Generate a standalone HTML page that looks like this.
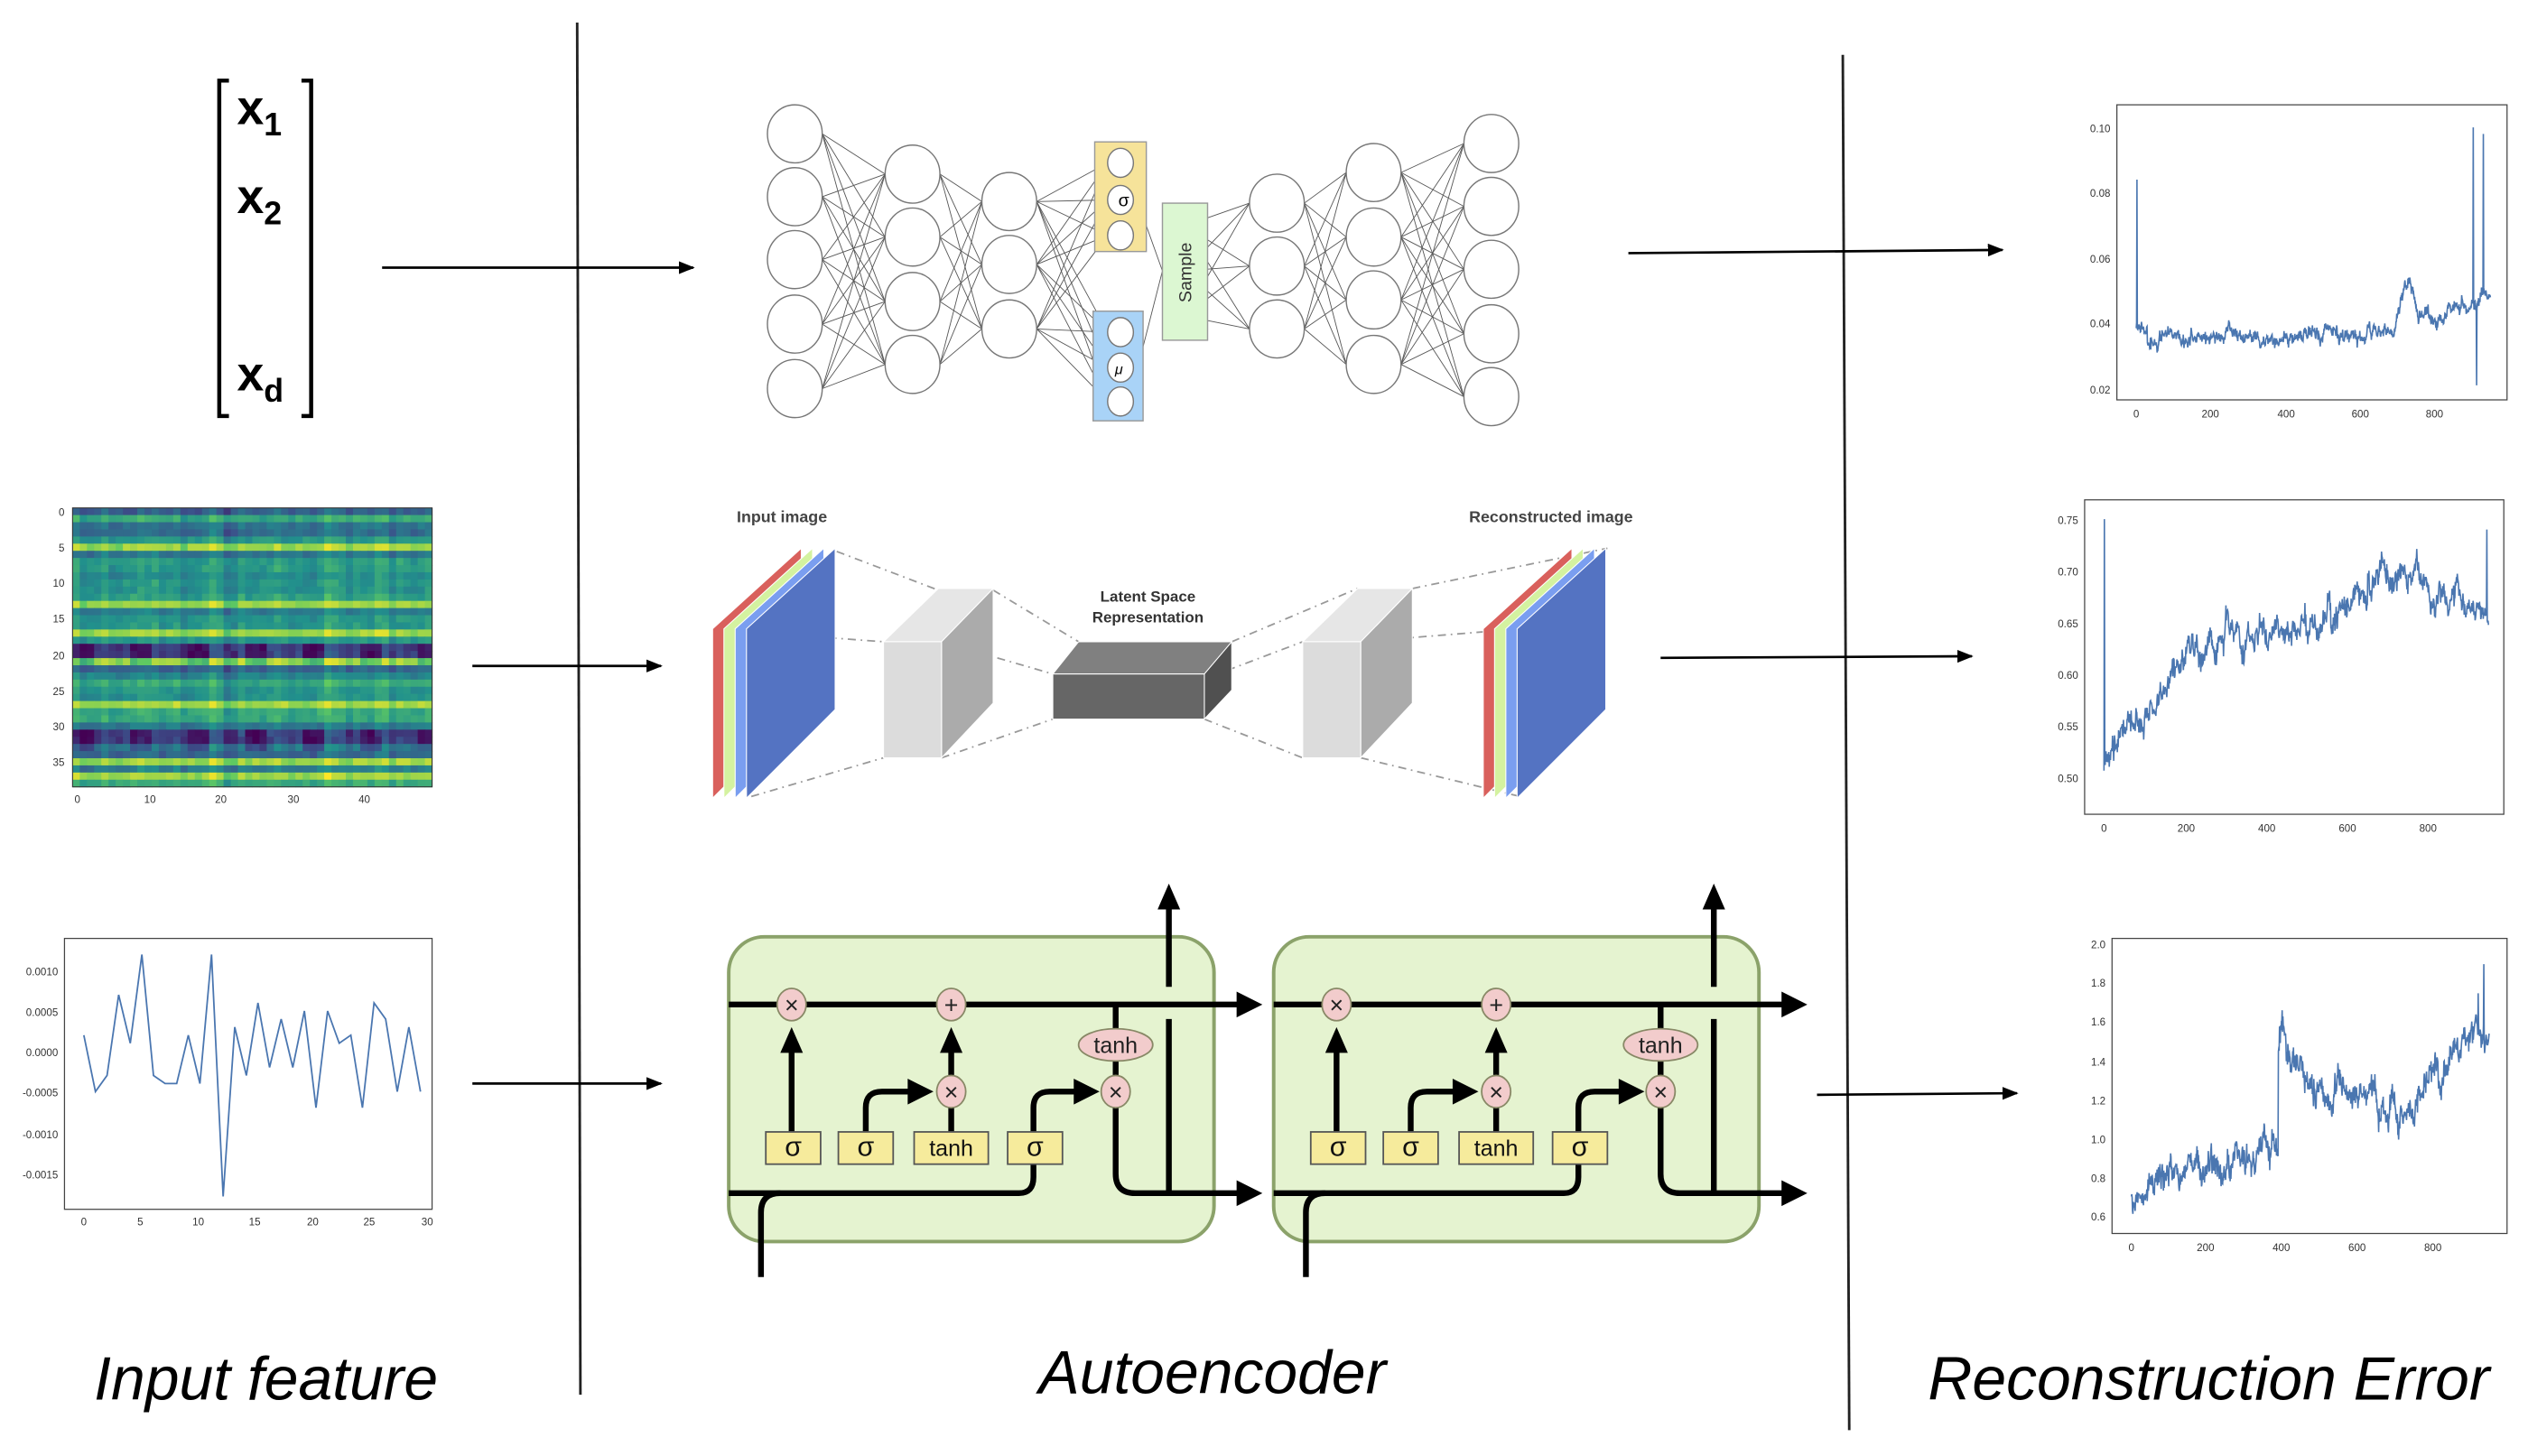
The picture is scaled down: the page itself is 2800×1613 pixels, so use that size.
<!DOCTYPE html>
<html><head><meta charset="utf-8"><style>
html,body{margin:0;padding:0;background:#fff;}
svg{display:block;}
text{font-family:"Liberation Sans",sans-serif;}
</style></head><body>
<svg id="s" width="2800" height="1613" viewBox="0 0 1568 903" preserveAspectRatio="none" xmlns="http://www.w3.org/2000/svg">
<defs>
<marker id="ah" markerWidth="10" markerHeight="8" refX="9" refY="4" orient="auto" markerUnits="userSpaceOnUse"><path d="M0,0 L10,4 L0,8 z" fill="#000"/></marker>
</defs>
<rect width="1568" height="903" fill="#fff"/>
<line x1="358" y1="14" x2="360" y2="865" stroke="#222" stroke-width="1.6"/>
<line x1="1143" y1="34" x2="1147" y2="887" stroke="#222" stroke-width="1.6"/>
<text x="165" y="868" font-size="38" font-style="italic" text-anchor="middle" fill="#000">Input feature</text>
<text x="752" y="864" font-size="38" font-style="italic" text-anchor="middle" fill="#000">Autoencoder</text>
<text x="1370" y="868" font-size="38" font-style="italic" text-anchor="middle" fill="#000">Reconstruction Error</text>
<path d="M142,50 L136,50 L136,258 L142,258" fill="none" stroke="#000" stroke-width="2.5"/>
<path d="M187,50 L193,50 L193,258 L187,258" fill="none" stroke="#000" stroke-width="2.5"/>
<text x="147" y="77" font-size="30" font-weight="600" fill="#000">x<tspan font-size="20" dy="7">1</tspan></text>
<text x="147" y="132" font-size="30" font-weight="600" fill="#000">x<tspan font-size="20" dy="7">2</tspan></text>
<text x="147" y="242" font-size="30" font-weight="600" fill="#000">x<tspan font-size="20" dy="7">d</tspan></text>
<g stroke="#000" stroke-width="1.5" marker-end="url(#ah)">
<line x1="237" y1="166" x2="430" y2="166"/>
<line x1="293" y1="413" x2="410" y2="413"/>
<line x1="293" y1="672" x2="410" y2="672"/>
<line x1="1010" y1="157" x2="1242" y2="155"/>
<line x1="1030" y1="408" x2="1223" y2="407"/>
<line x1="1127" y1="679" x2="1251" y2="678"/>
</g>
<g id="heat"></g>
<rect x="45" y="315" width="223" height="173" fill="none" stroke="#333" stroke-width="0.6"/>
<g font-size="6.5" fill="#333">
<text x="40" y="320" text-anchor="end">0</text><text x="40" y="342" text-anchor="end">5</text><text x="40" y="364" text-anchor="end">10</text><text x="40" y="386" text-anchor="end">15</text><text x="40" y="409" text-anchor="end">20</text><text x="40" y="431" text-anchor="end">25</text><text x="40" y="453" text-anchor="end">30</text><text x="40" y="475" text-anchor="end">35</text>
<text x="48" y="498" text-anchor="middle">0</text><text x="93" y="498" text-anchor="middle">10</text><text x="137" y="498" text-anchor="middle">20</text><text x="182" y="498" text-anchor="middle">30</text><text x="226" y="498" text-anchor="middle">40</text>
</g>
<rect x="40" y="582" width="228" height="168" fill="none" stroke="#444" stroke-width="0.7"/>
<g font-size="6.5" fill="#333" text-anchor="end">
<text x="36" y="605">0.0010</text><text x="36" y="630">0.0005</text><text x="36" y="655">0.0000</text><text x="36" y="680">-0.0005</text><text x="36" y="706">-0.0010</text><text x="36" y="731">-0.0015</text>
</g>
<g font-size="6.5" fill="#333" text-anchor="middle">
<text x="52" y="760">0</text><text x="87" y="760">5</text><text x="123" y="760">10</text><text x="158" y="760">15</text><text x="194" y="760">20</text><text x="229" y="760">25</text><text x="265" y="760">30</text>
</g>
<polyline id="small" fill="none" stroke="#4a76b0" stroke-width="1"/>
<rect x="1313" y="65" width="242" height="183" fill="none" stroke="#444" stroke-width="0.7"/>
<g font-size="6.5" fill="#333" text-anchor="end">
<text x="1309" y="82">0.10</text><text x="1309" y="122">0.08</text><text x="1309" y="163">0.06</text><text x="1309" y="203">0.04</text><text x="1309" y="244">0.02</text>
</g>
<g font-size="6.5" fill="#333" text-anchor="middle">
<text x="1325" y="259">0</text><text x="1371" y="259">200</text><text x="1418" y="259">400</text><text x="1464" y="259">600</text><text x="1510" y="259">800</text>
</g>
<polyline id="p1" fill="none" stroke="#4a76b0" stroke-width="0.9"/>
<rect x="1293" y="310" width="260" height="195" fill="none" stroke="#444" stroke-width="0.7"/>
<g font-size="6.5" fill="#333" text-anchor="end">
<text x="1289" y="325">0.75</text><text x="1289" y="357">0.70</text><text x="1289" y="389">0.65</text><text x="1289" y="421">0.60</text><text x="1289" y="453">0.55</text><text x="1289" y="485">0.50</text>
</g>
<g font-size="6.5" fill="#333" text-anchor="middle">
<text x="1305" y="516">0</text><text x="1356" y="516">200</text><text x="1406" y="516">400</text><text x="1456" y="516">600</text><text x="1506" y="516">800</text>
</g>
<polyline id="p2" fill="none" stroke="#4a76b0" stroke-width="0.9"/>
<rect x="1310" y="582" width="245" height="183" fill="none" stroke="#444" stroke-width="0.7"/>
<g font-size="6.5" fill="#333" text-anchor="end">
<text x="1306" y="588">2.0</text><text x="1306" y="612">1.8</text><text x="1306" y="636">1.6</text><text x="1306" y="661">1.4</text><text x="1306" y="685">1.2</text><text x="1306" y="709">1.0</text><text x="1306" y="733">0.8</text><text x="1306" y="757">0.6</text>
</g>
<g font-size="6.5" fill="#333" text-anchor="middle">
<text x="1322" y="776">0</text><text x="1368" y="776">200</text><text x="1415" y="776">400</text><text x="1462" y="776">600</text><text x="1509" y="776">800</text>
</g>
<polyline id="p3" fill="none" stroke="#4a76b0" stroke-width="0.9"/>

<g id="vaeEdges" stroke="#555" stroke-width="0.5" fill="none"></g>
<rect x="679" y="88" width="32" height="68" fill="#f6e39a" stroke="#999" stroke-width="0.8"/>
<rect x="678" y="193" width="31" height="68" fill="#a9d3f7" stroke="#999" stroke-width="0.8"/>
<rect x="721" y="126" width="28" height="85" fill="#dcf7d2" stroke="#999" stroke-width="0.8"/>
<g id="vaeNodes" fill="#fff" stroke="#777" stroke-width="0.8"></g>
<text x="697" y="128" font-size="11" font-family="Liberation Serif" text-anchor="middle">σ</text>
<text x="694" y="232" font-size="9" font-style="italic" font-family="Liberation Serif" text-anchor="middle">μ</text>
<text transform="translate(739,169) rotate(-90)" font-size="11" font-family="Liberation Serif" text-anchor="middle" fill="#333">Sample</text>

<text x="485" y="324" font-size="10" font-weight="bold" fill="#444" text-anchor="middle">Input image</text>
<text x="962" y="324" font-size="10" font-weight="bold" fill="#444" text-anchor="middle">Reconstructed image</text>
<text x="712" y="373" font-size="9.5" font-weight="bold" fill="#333" text-anchor="middle">Latent Space</text>
<text x="712" y="386" font-size="9.5" font-weight="bold" fill="#333" text-anchor="middle">Representation</text>
<g stroke="#999" stroke-width="1" stroke-dasharray="5,3,1,3" fill="none">
<line x1="519" y1="342" x2="582" y2="366"/><line x1="466" y1="392" x2="548" y2="398"/><line x1="466" y1="494" x2="548" y2="470"/>
<line x1="616" y1="366" x2="669" y2="398"/><line x1="584" y1="398" x2="653" y2="418"/><line x1="584" y1="470" x2="653" y2="446"/>
<line x1="764" y1="398" x2="842" y2="365"/><line x1="750" y1="420" x2="808" y2="398"/><line x1="747" y1="446" x2="808" y2="470"/>
<line x1="876" y1="365" x2="997" y2="340"/><line x1="844" y1="398" x2="943" y2="390"/><line x1="844" y1="470" x2="943" y2="494"/>
</g>
<g stroke="#fff" stroke-width="0.6">
<polygon points="442,390 497,340 497,440 442,495" fill="#d9605c"/>
<polygon points="449,390 504,340 504,440 449,495" fill="#d4f2a0"/>
<polygon points="456,390 511,340 511,440 456,495" fill="#7a9ef0"/>
<polygon points="463,390 518,340 518,440 463,495" fill="#5473c2"/>
<polygon points="920,390 975,340 975,440 920,495" fill="#d9605c"/>
<polygon points="927,390 982,340 982,440 927,495" fill="#d4f2a0"/>
<polygon points="934,390 989,340 989,440 934,495" fill="#7a9ef0"/>
<polygon points="941,390 996,340 996,440 941,495" fill="#5473c2"/>
<polygon points="548,398 582,365 616,365 584,398" fill="#e6e6e6"/>
<polygon points="584,398 616,365 616,436 584,470" fill="#ababab"/>
<rect x="548" y="398" width="36" height="72" fill="#dcdcdc"/>
<polygon points="808,398 842,365 876,365 844,398" fill="#e6e6e6"/>
<polygon points="844,398 876,365 876,436 844,470" fill="#ababab"/>
<rect x="808" y="398" width="36" height="72" fill="#dcdcdc"/>
<polygon points="653,418 669,398 764,398 747,418" fill="#808080"/>
<polygon points="747,418 764,398 764,428 747,446" fill="#505050"/>
<rect x="653" y="418" width="94" height="28" fill="#666"/>
</g>

<g id="lstm"></g>
</svg>
<script>
(function(){
var NS="http://www.w3.org/2000/svg";
function el(p,t,a,txt){var e=document.createElementNS(NS,t);for(var k in a)e.setAttribute(k,a[k]);if(txt)e.textContent=txt;p.appendChild(e);return e;}
var seed=7;function rnd(){seed=(seed*16807)%2147483647;return (seed-1)/2147483646;}
function gn(){return (rnd()+rnd()+rnd()-1.5)/1.5;}
var vs=[[68,1,84],[59,82,139],[33,145,140],[94,201,98],[253,231,37]];
function vir(t){t=Math.max(0,Math.min(1,t));var f=t*4,i=Math.min(3,Math.floor(f)),r=f-i;var a=vs[i],b=vs[i+1];return "rgb("+Math.round(a[0]+(b[0]-a[0])*r)+","+Math.round(a[1]+(b[1]-a[1])*r)+","+Math.round(a[2]+(b[2]-a[2])*r)+")";}
var heat=document.getElementById("heat");
var rows=39,cols=50,cw=223/cols,rh=173/rows;
var rb=[];for(var r=0;r<rows;r++){rb.push(0.45+0.35*(rnd()-0.5));}
[5,13,17,21,27,35,37].forEach(function(i){rb[i]=0.85;});
[19,20,31,32].forEach(function(i){rb[i]=0.2;});
[0].forEach(function(i){rb[i]=0.3;});
var cb=[];for(var c=0;c<cols;c++)cb.push(gn()*0.12);
for(var r=0;r<rows;r++)for(var c=0;c<cols;c++){
 var v=rb[r]+cb[c]+gn()*0.08;
 if((r>=19&&r<=21)||(r>=31&&r<=33)){ if(c%8<3) v-=0.15;}
 el(heat,"rect",{x:45+c*cw,y:315+r*rh,width:cw+0.3,height:rh+0.3,fill:vir(v)});
}
var sv=[0.0002,-0.0005,-0.0003,0.0007,0.0001,0.0012,-0.0003,-0.0004,-0.0004,0.0002,-0.0004,0.0012,-0.0018,0.0003,-0.0003,0.0006,-0.0002,0.0004,-0.0002,0.0005,-0.0007,0.0005,0.0001,0.0002,-0.0007,0.0006,0.0004,-0.0005,0.0003,-0.0005];
var pts=[];sv.forEach(function(v,i){pts.push((52+i*7.2).toFixed(1)+","+(652-v*50000).toFixed(1));});
document.getElementById("small").setAttribute("points",pts.join(" "));
function series(id,n,x0,dx,fy,fv){var p=[],w=0;for(var i=0;i<n;i++){w=w*0.9+gn();var v=fv(i,w);p.push((x0+i*dx).toFixed(2)+","+fy(v).toFixed(2));}document.getElementById(id).setAttribute("points",p.join(" "));}
series("p1",950,1325,0.2315,function(v){return 241-(v-0.02)*2025;},function(i,w){
 if(i==2)return 0.084; if(i==903)return 0.1; if(i==912)return 0.021; if(i==930)return 0.098;
 var b=0.036; if(i<30)b=0.04; if(i>600)b=0.036+(i-600)/350*0.012; if(i>700&&i<760)b+=0.012*Math.sin((i-700)/60*Math.PI);
 return b+w*0.0022+gn()*0.002;});
series("p2",950,1305,0.2513,function(v){return 482-(v-0.5)*640;},function(i,w){
 if(i==1)return 0.75; if(i==945)return 0.74;
 var b; if(i<300)b=0.51+0.13*Math.pow(i/300,0.7); else b=0.655+0.02*Math.sin(i/90)+(i>650?0.02:0);
 return b+w*0.012+gn()*0.012;});
series("p3",950,1322,0.2338,function(v){return 754-(v-0.6)*120;},function(i,w){
 if(i==935)return 1.9; if(i==920)return 1.75;
 var b; if(i<390)b=0.72+0.25*i/390; else if(i<520)b=1.55-(i-390)/130*0.35; else if(i<760)b=1.2+0.05*Math.sin(i/40); else b=1.25+(i-760)/190*0.35;
 return b+w*0.07+gn()*0.07;});
var L=[[493,[83,122,161,201,241],17],[566,[108,147,187,226],17],[626,[125,164,204],17],[695,[101,124,146,206,228,249],8],[792,[126,165,204],17],[852,[107,147,186,226],17],[925,[89,128,167,207,246],17]];
var E=document.getElementById("vaeEdges"),N=document.getElementById("vaeNodes");
function conn(a,b){L[a][1].forEach(function(y1){L[b][1].forEach(function(y2){el(E,"line",{x1:L[a][0]+L[a][2],y1:y1,x2:L[b][0]-L[b][2],y2:y2});});});}
conn(0,1);conn(1,2);conn(2,3);conn(4,5);conn(5,6);
[126,165,204].forEach(function(y2){[140,168,196].forEach(function(y1){el(E,"line",{x1:749-14,y1:y1,x2:775,y2:y2});});});
el(E,"line",{x1:711,y1:140,x2:721,y2:168});el(E,"line",{x1:709,y1:215,x2:721,y2:168});
L.forEach(function(l,li){l[1].forEach(function(y){el(N,"ellipse",{cx:l[0],cy:y,rx:l[2],ry:li==3?9:18});});});
var G=document.getElementById("lstm");
function cell(o){
 var g=el(G,"g",{transform:"translate("+o+",0)"});
 el(g,"rect",{x:452,y:581,width:301,height:189,rx:22,fill:"#e5f3d0",stroke:"#8ba26a","stroke-width":2.2});
 var s={stroke:"#000","stroke-width":3.6,fill:"none"};
 function P(d){var a={d:d};for(var k in s)a[k]=s[k];return el(g,"path",a);}
 function tri(x,y,dir){var d;if(dir=="u")d="M"+(x-7)+","+(y+16)+" L"+x+","+y+" L"+(x+7)+","+(y+16)+"z";else d="M"+(x-16)+","+(y-8)+" L"+x+","+y+" L"+(x-16)+","+(y+8)+"z";el(g,"path",{d:d,fill:"#000"});}
 P("M452,623 L770,623");tri(783,623,"r");
 P("M452,740 L632,740 Q641,740 641,730 L641,720");
 P("M472,792 L472,752 Q472,740 484,740");
 P("M692,686 L692,728 Q692,740 704,740 L770,740");tri(783,740,"r");
 P("M725,740 L725,632");P("M725,612 L725,562");tri(725,548,"u");
 P("M491,702 L491,650");tri(491,637,"u");
 P("M537,702 L537,687 Q537,677 547,677 L565,677");tri(579,677,"r");
 P("M590,702 L590,687");P("M590,668 L590,650");tri(590,637,"u");
 P("M641,702 L641,687 Q641,677 651,677 L668,677");tri(682,677,"r");
 P("M692,623 L692,638");P("M692,658 L692,668");
 [[475,34,"σ"],[520,34,"σ"],[567,46,"tanh"],[625,34,"σ"]].forEach(function(b){el(g,"rect",{x:b[0],y:702,width:b[1],height:20,fill:"#f6eb9c",stroke:"#555","stroke-width":1});el(g,"text",{x:b[0]+b[1]/2,y:717,"font-size":b[2]=="σ"?17:14,"text-anchor":"middle",fill:"#111"},b[2]);});
 [[491,623,"×"],[590,623,"+"],[590,677,"×"],[692,677,"×"]].forEach(function(c){el(g,"ellipse",{cx:c[0],cy:c[1],rx:9,ry:10,fill:"#f2cccc",stroke:"#886","stroke-width":1});el(g,"text",{x:c[0],y:c[1]+5.5,"font-size":15,"text-anchor":"middle",fill:"#222"},c[2]);});
 el(g,"ellipse",{cx:692,cy:648,rx:23,ry:10,fill:"#f2cccc",stroke:"#886","stroke-width":1});
 el(g,"text",{x:692,y:653,"font-size":14,"text-anchor":"middle",fill:"#222"},"tanh");
}
cell(0);cell(338);
})();
</script>
</body></html>
